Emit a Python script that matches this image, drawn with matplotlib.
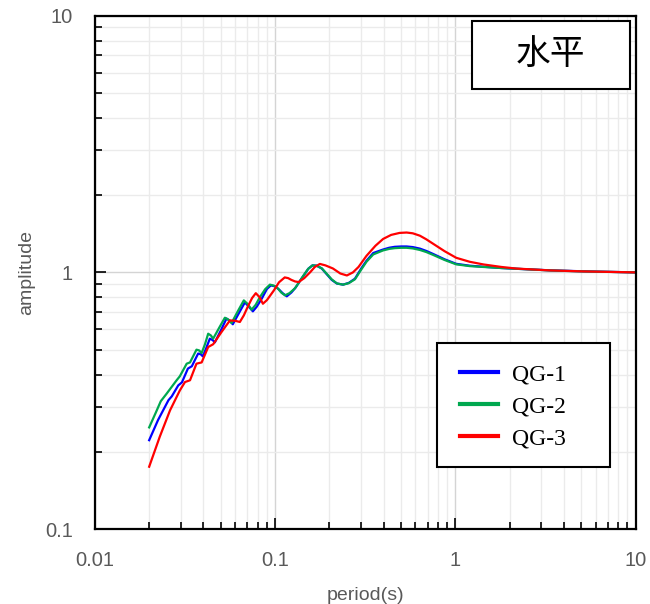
import matplotlib
matplotlib.use("Agg")
import matplotlib.pyplot as plt
from matplotlib.patches import Rectangle
from matplotlib.ticker import LogLocator, FuncFormatter, NullFormatter

# series values (period s, amplitude)
qg1_period = [0.020, 0.0224, 0.0256, 0.0267, 0.0290, 0.0304, 0.0328, 0.0345, 0.0360, 0.0374,
              0.0386, 0.0397, 0.0415, 0.0434, 0.0450, 0.0463, 0.0500, 0.0537, 0.0560, 0.0582,
              0.0630, 0.0679, 0.0715, 0.0752, 0.0790, 0.0844, 0.0900, 0.0946, 0.1000, 0.1048,
              0.1100, 0.116, 0.123, 0.130, 0.137, 0.144, 0.153, 0.161, 0.170, 0.1815,
              0.193, 0.206, 0.220, 0.238, 0.256, 0.277, 0.300, 0.321, 0.350, 0.397,
              0.430, 0.461, 0.500, 0.536, 0.580, 0.635, 0.690, 0.752, 0.870, 1.01,
              1.20, 1.43, 1.80, 2.18, 3.34, 5.1, 10.0]
qg1_amp = [0.222, 0.266, 0.318, 0.329, 0.363, 0.373, 0.422, 0.431, 0.458, 0.483,
           0.480, 0.471, 0.508, 0.552, 0.545, 0.534, 0.595, 0.661, 0.648, 0.628,
           0.695, 0.764, 0.735, 0.705, 0.735, 0.792, 0.862, 0.890, 0.882, 0.859,
           0.830, 0.807, 0.835, 0.874, 0.925, 0.973, 1.035, 1.065, 1.062, 1.035,
           0.985, 0.935, 0.905, 0.896, 0.910, 0.945, 1.035, 1.110, 1.190, 1.228,
           1.248, 1.258, 1.262, 1.262, 1.255, 1.238, 1.212, 1.180, 1.125, 1.080,
           1.062, 1.052, 1.040, 1.033, 1.019, 1.010, 1.000]

qg2_period = [0.020, 0.0218, 0.0232, 0.0250, 0.0261, 0.0284, 0.0296, 0.0323, 0.0337, 0.0350,
              0.0366, 0.0378, 0.0391, 0.0408, 0.0425, 0.0440, 0.0453, 0.0490, 0.0526, 0.0550,
              0.0573, 0.0620, 0.0670, 0.0705, 0.0740, 0.0780, 0.0822, 0.0880, 0.0935, 0.0985,
              0.1035, 0.1080, 0.1133, 0.1200, 0.1286, 0.1350, 0.1425, 0.152, 0.161, 0.170,
              0.1815, 0.193, 0.206, 0.220, 0.238, 0.256, 0.277, 0.300, 0.321, 0.350,
              0.397, 0.430, 0.461, 0.500, 0.536, 0.580, 0.635, 0.690, 0.752, 0.870,
              1.01, 1.20, 1.43, 1.80, 2.18, 3.34, 5.1, 10.0]
qg2_amp = [0.249, 0.285, 0.315, 0.337, 0.351, 0.380, 0.394, 0.441, 0.446, 0.470,
           0.500, 0.497, 0.485, 0.525, 0.577, 0.568, 0.552, 0.610, 0.666, 0.655,
           0.635, 0.705, 0.778, 0.752, 0.716, 0.748, 0.800, 0.860, 0.896, 0.888,
           0.866, 0.835, 0.814, 0.830, 0.866, 0.910, 0.965, 1.030, 1.065, 1.062,
           1.037, 0.988, 0.939, 0.906, 0.896, 0.908, 0.940, 1.025, 1.100, 1.175,
           1.218, 1.235, 1.243, 1.247, 1.247, 1.240, 1.223, 1.200, 1.170, 1.118,
           1.075, 1.058, 1.050, 1.040, 1.033, 1.018, 1.009, 1.000]

qg3_period = [0.020, 0.0229, 0.0261, 0.0296, 0.0316, 0.0337, 0.0366, 0.0391, 0.0425, 0.0453,
              0.0504, 0.0561, 0.0600, 0.0637, 0.0670, 0.0706, 0.0745, 0.0781, 0.0820, 0.0855,
              0.0900, 0.0984, 0.105, 0.113, 0.118, 0.123, 0.129, 0.135, 0.145, 0.156,
              0.166, 0.177, 0.190, 0.209, 0.230, 0.250, 0.270, 0.290, 0.321, 0.360,
              0.397, 0.440, 0.490, 0.536, 0.580, 0.635, 0.690, 0.752, 0.870, 1.01,
              1.20, 1.43, 1.80, 2.18, 3.34, 5.1, 10.0]
qg3_amp = [0.175, 0.229, 0.290, 0.347, 0.374, 0.380, 0.441, 0.446, 0.512, 0.525,
           0.586, 0.650, 0.648, 0.641, 0.680, 0.737, 0.795, 0.830, 0.800, 0.755,
           0.780, 0.851, 0.915, 0.956, 0.950, 0.935, 0.922, 0.917, 0.950, 1.000,
           1.050, 1.079, 1.065, 1.036, 0.990, 0.973, 1.000, 1.050, 1.160, 1.270,
           1.350, 1.400, 1.425, 1.430, 1.420, 1.390, 1.345, 1.293, 1.210, 1.140,
           1.100, 1.074, 1.050, 1.035, 1.018, 1.009, 1.000]

labels = ["QG-1", "QG-2", "QG-3"]
colors = ["#0000ff", "#00a84f", "#ff0000"]

plt.rcParams['font.family'] = ['Liberation Sans', 'DejaVu Sans']

fig = plt.figure(figsize=(6.5, 6.04), dpi=100)
ax = fig.add_axes([0.146, 0.124, 0.832, 0.850])

series = [(qg1_period, qg1_amp), (qg2_period, qg2_amp), (qg3_period, qg3_amp)]
for (p, a), lab, c in zip(series, labels, colors):
    ax.plot(p, a, color=c, lw=1.6, label=lab, solid_joinstyle='round')

ax.set_xscale('log')
ax.set_yscale('log')
ax.set_xlim(0.01, 10)
ax.set_ylim(0.1, 10)

ax.xaxis.set_major_locator(LogLocator(base=10, numticks=10))
ax.yaxis.set_major_locator(LogLocator(base=10, numticks=10))
ax.xaxis.set_minor_locator(LogLocator(base=10, subs=range(2, 10), numticks=20))
ax.yaxis.set_minor_locator(LogLocator(base=10, subs=range(2, 10), numticks=20))
fmt = FuncFormatter(lambda v, pos: '%g' % v)
ax.xaxis.set_major_formatter(fmt)
ax.yaxis.set_major_formatter(fmt)
ax.xaxis.set_minor_formatter(NullFormatter())
ax.yaxis.set_minor_formatter(NullFormatter())

ax.grid(True, which='major', color='#d4d4d4', lw=1.0)
ax.grid(True, which='minor', color='#ebebeb', lw=1.0)
ax.set_axisbelow(True)

ax.tick_params(which='both', direction='in', top=False, right=False,
               labelsize=14.5, labelcolor='#595959', colors='black')
ax.tick_params(which='major', length=8, width=1.2, pad=16)
ax.tick_params(which='minor', length=5, width=1.2)
for s in ax.spines.values():
    s.set_linewidth(1.6)

ax.set_xlabel('period(s)', fontsize=14, color='#595959', labelpad=12)
ax.set_ylabel('amplitude', fontsize=14, color='#595959', labelpad=7)

# legend entries without frame, frame drawn separately to match the box size
leg = ax.legend(loc='center left', bbox_to_anchor=(0.675, 0.239), frameon=False,
                prop={'family': 'Liberation Serif', 'size': 17},
                handlelength=1.6, handletextpad=0.6, labelspacing=0.45,
                borderpad=0, borderaxespad=0)
for h in leg.legend_handles:
    h.set_linewidth(3)
ax.add_patch(Rectangle((0.632, 0.121), 0.320, 0.241, transform=ax.transAxes,
                       facecolor='white', edgecolor='black', lw=1.5, zorder=4))
leg.set_zorder(5)

ax.add_patch(Rectangle((0.697, 0.858), 0.292, 0.132, transform=ax.transAxes,
                       facecolor='white', edgecolor='black', lw=1.5, zorder=4))
ax.text(0.843, 0.925, '水平', transform=ax.transAxes, fontsize=25,
        family=['Noto Sans CJK SC', 'Noto Sans CJK JP', 'DejaVu Sans'],
        ha='center', va='center', zorder=5)

fig.savefig('out.png', dpi=100)
